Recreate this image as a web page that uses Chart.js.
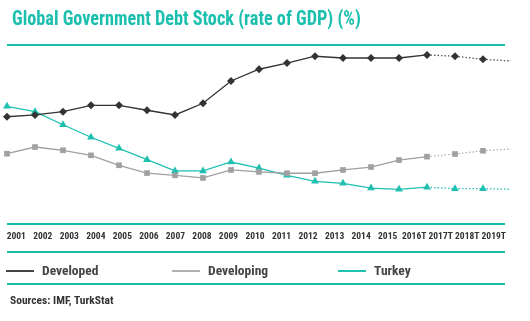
<!DOCTYPE html>
<html>
<head>
<meta charset="utf-8">
<script src="https://cdn.jsdelivr.net/npm/chart.js@4.4.0/dist/chart.umd.min.js"></script>
<style>
  body { margin: 0; background: #fff; font-family: "Roboto Condensed", "DejaVu Sans Condensed", sans-serif; }
  #wrap { position: relative; width: 530px; height: 321px; overflow: hidden; }
  #chart { position: absolute; left: 0; top: 0; }
  #title { position: absolute; left: 12px; top: 6px; line-height: 24px; font-size: 20px; font-weight: bold; color: #1bbfae;
           white-space: nowrap; transform: scaleX(0.91); transform-origin: 0 0; }
  .rule { position: absolute; left: 7px; width: 498px; height: 2px; background: #17bdac; }
  .item { position: absolute; top: 261px; line-height: 18px; font-size: 13.5px; font-weight: bold; color: #444; white-space: nowrap; }
  .item span { display: inline-block; width: 28px; height: 2px; vertical-align: middle; margin-right: 8px; }
  #source { position: absolute; left: 10px; top: 292px; line-height: 16px; font-size: 11.5px; font-weight: bold; color: #333; }
</style>
</head>
<body>
<div id="wrap">
  <canvas id="chart" width="530" height="321"></canvas>
  <div id="title">Global Government Debt Stock (rate of GDP) (%)</div>
  <div class="rule" style="top:251px"></div>
  <div class="item" style="left:6px"><span style="background:#444"></span>Developed</div>
  <div class="item" style="left:172px"><span style="background:#b0b0b0"></span>Developing</div>
  <div class="item" style="left:338px"><span style="background:#1fc0b0"></span>Turkey</div>
  <div class="rule" style="top:283px"></div>
  <div id="source">Sources: IMF, TurkStat</div>
</div>
<script>
// yıllar (T = tahmin)
const years = ['2001', '2002', '2003', '2004', '2005', '2006', '2007', '2008', '2009', '2010',
  '2011', '2012', '2013', '2014', '2015', '2016T', '2017T', '2018T', '2019T'];

// borç stoku / GSYH (%)
const developed = [70.9, 72.0, 74.0, 77.9, 77.9, 74.9, 72.0, 79.2, 92.9, 100.1,
  103.9, 108.1, 107.0, 107.0, 107.0, 108.9, 108.1, 106.2, 105.2];
const developing = [48.2, 52.3, 50.3, 47.2, 41.1, 36.3, 34.9, 33.3, 38.2, 37.0,
  36.2, 36.2, 38.2, 40.0, 44.3, 46.4, 48.0, 50.0, 51.1];
const turkey = [77.3, 74.0, 66.0, 58.3, 51.5, 44.5, 37.6, 37.6, 43.1, 39.4,
  34.9, 31.2, 30.0, 27.1, 26.3, 27.6, 26.7, 26.7, 26.3];

const forecastFrom = 15; // 2016T'den sonrası noktalı çizgi
const teal = '#17bdac';

function series(label, data, color, dotColor, style, radius) {
  return {
    label: label,
    data: data,
    xAxisID: 'x',
    borderColor: color,
    backgroundColor: color,
    borderWidth: 1.3,
    pointStyle: style,
    pointRadius: data.map((v, i) => i === data.length - 1 ? 0 : radius),
    pointBorderWidth: 0,
    pointHoverRadius: radius,
    tension: 0,
    segment: {
      borderDash: ctx => ctx.p0DataIndex >= forecastFrom ? [1.5, 2] : undefined,
      borderColor: ctx => ctx.p0DataIndex >= forecastFrom ? dotColor : undefined,
    },
  };
}

const ruleLines = {
  id: 'ruleLines',
  beforeDatasetsDraw(chart) {
    const ctx = chart.ctx;
    const area = chart.chartArea;
    ctx.save();
    ctx.strokeStyle = teal;
    ctx.lineWidth = 2;
    [area.top, area.bottom].forEach(y => {
      ctx.beginPath();
      ctx.moveTo(7, y);
      ctx.lineTo(505, y);
      ctx.stroke();
    });
    ctx.restore();
  }
};

new Chart(document.getElementById('chart').getContext('2d'), {
  type: 'line',
  data: {
    labels: years,
    datasets: [
      series('Developed', developed, '#333333', '#555555', 'rectRot', 4),
      series('Developing', developing, '#a0a0a2', '#b0b0b2', 'rect', 4),
      series('Turkey', turkey, '#1fc0b0', '#1fc0b0', 'triangle', 4.5),
    ]
  },
  options: {
    responsive: false,
    animation: false,
    layout: { padding: { left: 7, right: 19, top: 45, bottom: 71 } },
    plugins: {
      legend: { display: false },
      tooltip: { enabled: false },
    },
    scales: {
      x: {
        type: 'category',
        offset: false,
        display: false,
      },
      xl: {
        type: 'category',
        position: 'bottom',
        labels: years,
        offset: true,
        grid: { display: false, drawTicks: false },
        border: { display: false },
        ticks: {
          color: '#333',
          autoSkip: false,
          maxRotation: 0,
          minRotation: 0,
          padding: 7,
          labelOffset: -4,
          font: { family: '"Roboto Condensed", "DejaVu Sans Condensed", sans-serif', size: 9.5, weight: 'bold' },
        },
        afterFit: s => { s.height = 26; s.paddingLeft = 0; s.paddingRight = 0; },
      },
      y: {
        display: false,
        min: 5,
        max: 115,
      },
    },
  },
  plugins: [ruleLines],
});
</script>
</body>
</html>
